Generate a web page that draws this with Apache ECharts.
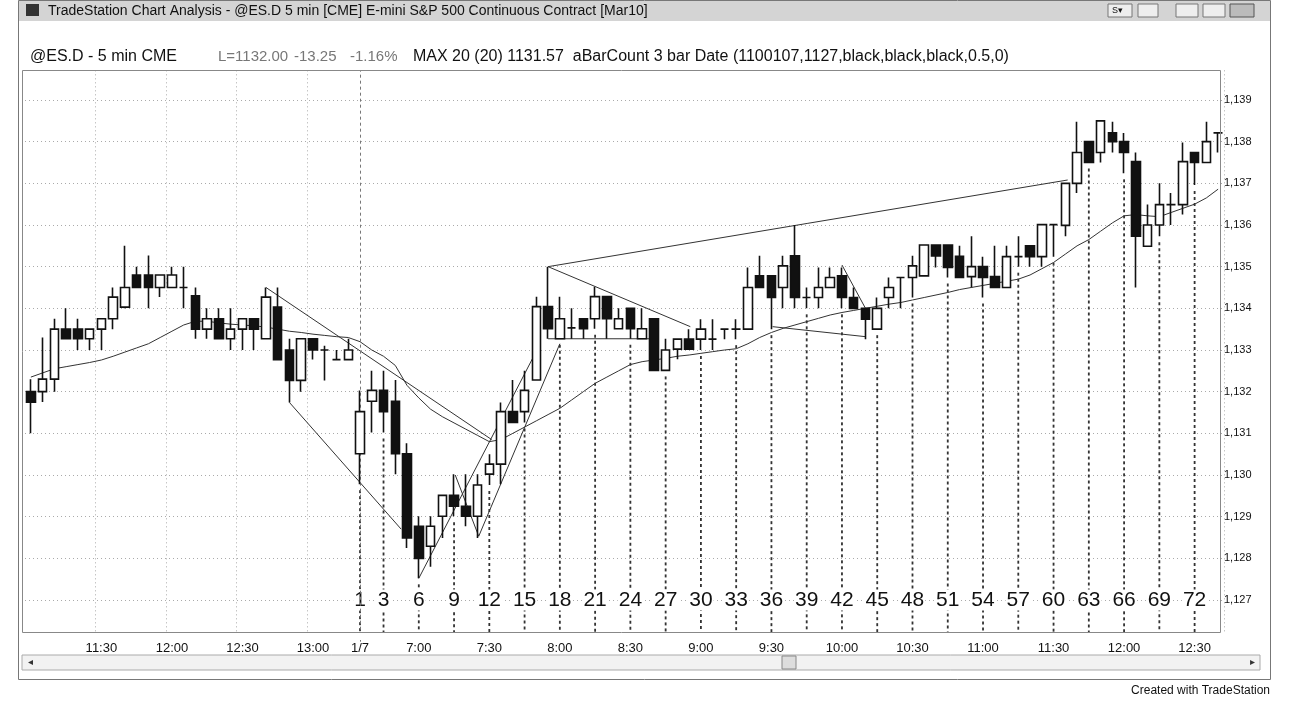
<!DOCTYPE html>
<html>
<head>
<meta charset="utf-8">
<script src="https://cdn.jsdelivr.net/npm/echarts@6/dist/echarts.min.js"></script>
<style>
  html, body { margin: 0; padding: 0; background: #fff; }
  #main { width: 1290px; height: 704px; }
</style>
</head>
<body>
<div id="main"></div>
<script>
// OHLC per 5 min bar: [open, close, low, high]
var day1 = [
  [1132.0, 1131.75, 1131.0, 1132.3], [1132.0, 1132.3, 1131.75, 1133.3], [1132.3, 1133.5, 1132.0, 1133.75],
  [1133.5, 1133.27, 1133.27, 1134.0], [1133.5, 1133.27, 1133.0, 1133.75], [1133.27, 1133.5, 1133.0, 1133.5],
  [1133.5, 1133.75, 1133.0, 1133.75], [1133.75, 1134.27, 1133.5, 1134.5], [1134.03, 1134.5, 1134.0, 1135.5],
  [1134.8, 1134.5, 1134.5, 1135.0], [1134.8, 1134.5, 1134.0, 1135.27], [1134.5, 1134.8, 1134.27, 1134.8],
  [1134.5, 1134.8, 1134.5, 1135.0], [1134.5, 1134.5, 1134.0, 1135.0], [1134.3, 1133.5, 1133.27, 1134.5],
  [1133.5, 1133.75, 1133.27, 1134.0], [1133.75, 1133.27, 1133.27, 1134.0], [1133.27, 1133.5, 1133.0, 1134.0],
  [1133.5, 1133.75, 1133.0, 1133.75], [1133.75, 1133.5, 1133.0, 1133.75], [1133.27, 1134.27, 1133.27, 1134.5],
  [1134.03, 1132.77, 1132.77, 1134.5], [1133.0, 1132.27, 1131.74, 1133.27], [1132.27, 1133.27, 1132.0, 1133.27],
  [1133.27, 1133.0, 1132.77, 1133.27], [1133.0, 1133.0, 1132.27, 1133.1], [1132.77, 1132.77, 1132.77, 1133.0],
  [1132.77, 1133.0, 1132.77, 1133.27]
];
var day2 = [
  [1130.51, 1131.52, 1129.78, 1132.03], [1131.77, 1132.03, 1131.02, 1132.5], [1132.03, 1131.52, 1131.02, 1132.5],
  [1131.77, 1130.51, 1130.02, 1132.28], [1130.51, 1128.49, 1128.25, 1130.76], [1128.77, 1128.0, 1127.52, 1129.01],
  [1128.29, 1128.77, 1127.8, 1129.01], [1129.01, 1129.51, 1128.49, 1129.51], [1129.51, 1129.25, 1129.01, 1130.02],
  [1129.25, 1129.01, 1128.77, 1130.02], [1129.01, 1129.76, 1128.49, 1130.02], [1130.02, 1130.26, 1129.76, 1130.5],
  [1130.26, 1131.52, 1129.78, 1131.74], [1131.52, 1131.26, 1131.26, 1132.28], [1131.52, 1132.03, 1131.26, 1132.5],
  [1132.28, 1134.04, 1132.28, 1134.28], [1134.04, 1133.51, 1133.27, 1135.0], [1133.27, 1133.75, 1133.27, 1134.28],
  [1133.53, 1133.53, 1133.27, 1134.0], [1133.75, 1133.51, 1133.27, 1133.75], [1133.75, 1134.28, 1133.51, 1134.52],
  [1134.28, 1133.75, 1133.27, 1134.28], [1133.51, 1133.75, 1133.51, 1134.0], [1134.0, 1133.51, 1133.27, 1134.0],
  [1133.27, 1133.51, 1133.27, 1134.0], [1133.75, 1132.51, 1132.51, 1133.75], [1132.51, 1133.0, 1132.51, 1133.27],
  [1133.02, 1133.26, 1132.78, 1133.26], [1133.26, 1133.02, 1133.02, 1133.5], [1133.26, 1133.5, 1133.0, 1133.74],
  [1133.26, 1133.26, 1133.0, 1133.74], [1133.5, 1133.5, 1133.26, 1133.52], [1133.5, 1133.5, 1133.26, 1133.74],
  [1133.5, 1134.5, 1133.5, 1134.98], [1134.78, 1134.5, 1134.5, 1135.26], [1134.78, 1134.26, 1133.5, 1134.78],
  [1134.5, 1135.02, 1134.0, 1135.26], [1135.26, 1134.26, 1134.0, 1136.0], [1134.26, 1134.26, 1134.0, 1134.5],
  [1134.26, 1134.5, 1134.0, 1134.98], [1134.5, 1134.74, 1134.5, 1134.98], [1134.78, 1134.26, 1134.0, 1134.98],
  [1134.26, 1134.0, 1134.0, 1134.5], [1134.0, 1133.74, 1133.26, 1134.0], [1133.5, 1134.0, 1133.5, 1134.26],
  [1134.26, 1134.5, 1134.0, 1134.74], [1134.74, 1134.74, 1134.0, 1134.76], [1134.74, 1135.02, 1134.26, 1135.26],
  [1134.78, 1135.52, 1134.78, 1135.52], [1135.52, 1135.26, 1134.98, 1135.52], [1135.52, 1134.98, 1134.74, 1135.52],
  [1135.25, 1134.74, 1134.74, 1135.5], [1134.76, 1135.0, 1134.5, 1135.73], [1135.0, 1134.74, 1134.26, 1135.24],
  [1134.76, 1134.5, 1134.5, 1135.5], [1134.5, 1135.24, 1134.5, 1135.5], [1135.24, 1135.24, 1135.0, 1135.73],
  [1135.5, 1135.24, 1135.0, 1135.5], [1135.24, 1136.01, 1135.0, 1136.01], [1136.01, 1136.01, 1135.24, 1136.03],
  [1135.99, 1137.0, 1135.73, 1137.0], [1137.0, 1137.74, 1136.77, 1138.48], [1138.0, 1137.5, 1137.5, 1138.0],
  [1137.74, 1138.5, 1137.5, 1138.5], [1138.21, 1138.0, 1137.74, 1138.48], [1138.0, 1137.74, 1137.24, 1138.21],
  [1137.52, 1135.73, 1134.5, 1137.74], [1135.49, 1136.0, 1135.49, 1136.49], [1136.0, 1136.49, 1135.73, 1137.0],
  [1136.49, 1136.49, 1136.0, 1136.77], [1136.49, 1137.52, 1136.25, 1137.98], [1137.74, 1137.5, 1136.96, 1137.74],
  [1137.5, 1138.0, 1137.5, 1138.48], [1138.21, 1138.21, 1137.74, 1138.23]
];
// 20 bar average
var maValues = [
  1132.35, 1132.45, 1132.55, 1132.6, 1132.65, 1132.7, 1132.76, 1132.85, 1132.95, 1133.05,
  1133.15, 1133.3, 1133.45, 1133.6, 1133.69, 1133.69, 1133.65, 1133.62, 1133.6, 1133.58,
  1133.55, 1133.5, 1133.45, 1133.42, 1133.38, 1133.35, 1133.32, 1133.3,
  1133.2, 1133.0, 1132.85, 1132.63, 1132.15, 1131.85, 1131.58, 1131.4, 1131.25, 1131.1,
  1130.95, 1130.8, 1130.85, 1131.0, 1131.15, 1131.3, 1131.45, 1131.6, 1131.8, 1132.0,
  1132.2, 1132.35, 1132.5, 1132.65, 1132.72, 1132.76, 1132.8, 1132.85, 1132.88, 1132.92,
  1132.96, 1133.0, 1133.03, 1133.15, 1133.3, 1133.42, 1133.52, 1133.6, 1133.68, 1133.76,
  1133.84, 1133.9, 1133.95, 1134.0, 1134.05, 1134.1, 1134.14, 1134.2, 1134.26, 1134.32,
  1134.38, 1134.45, 1134.5, 1134.55, 1134.6, 1134.65, 1134.7, 1134.8, 1134.95, 1135.1,
  1135.3, 1135.5, 1135.65, 1135.85, 1136.05, 1136.22, 1136.25, 1136.22, 1136.2, 1136.3,
  1136.4, 1136.5, 1136.65, 1136.86
];
// trendlines as [bar index, price]
var trendLines = [
  [[20, 1134.5], [39.2, 1130.85]],
  [[22, 1131.74], [31.5, 1128.7]],
  [[33, 1127.52], [43.05, 1133.0]],
  [[36.1, 1130.0], [38.1, 1128.53], [45, 1133.15]],
  [[44, 1135.0], [88.2, 1137.08]],
  [[44, 1135.0], [56.1, 1133.56]],
  [[44, 1133.27], [52.6, 1133.27]],
  [[63.1, 1133.56], [71, 1133.32], [71, 1134.0]],
  [[69, 1135.04], [71, 1134.0]]
];
var barCounts = [1, 3, 6, 9, 12, 15, 18, 21, 24, 27, 30, 33, 36, 39, 42, 45, 48, 51, 54, 57, 60, 63, 66, 69, 72];
var tickLabels = [
  [6, '11:30'], [12, '12:00'], [18, '12:30'], [24, '13:00'], [28, '1/7'], [33, '7:00'], [39, '7:30'],
  [45, '8:00'], [51, '8:30'], [57, '9:00'], [63, '9:30'], [69, '10:00'], [75, '10:30'], [81, '11:00'],
  [87, '11:30'], [93, '12:00'], [99, '12:30']
];
var dayStart = day1.length; // index of first bar of 1/7

var bars = day1.concat(day2);
var cats = bars.map(function (b, i) { return 'b' + i; });
var tickMap = {};
tickLabels.forEach(function (t) { tickMap[t[0]] = t[1]; });

var myChart = echarts.init(document.getElementById('main'));

var font = 'Liberation Sans, Arial, sans-serif';
var lineSeries = trendLines.map(function (pts) {
  return {
    type: 'line', xAxisIndex: 1, data: pts, symbol: 'none', silent: true, z: 4,
    lineStyle: { color: '#333', width: 1 }
  };
});

// colours of horizontal grid lines, 1126 and 1140 hidden
var gridColors = [];
for (var p = 1126; p <= 1140; p++) gridColors.push(p === 1126 || p === 1140 ? 'rgba(0,0,0,0)' : '#aaa');

function infoText(x, text, color, size) {
  return { type: 'text', x: x, y: 57, z: 61,
           style: { text: text, font: size + 'px ' + font, fill: color, verticalAlign: 'middle' } };
}

option = {
  animation: false,
  backgroundColor: '#fff',
  grid: { left: 25, right: 66, top: 100 - 41.667, bottom: 704 - (600 + 41.667) },
  xAxis: [{
    type: 'category', data: cats,
    axisLine: { show: false },
    axisTick: { show: false },
    axisLabel: {
      interval: function (i) { return tickMap[i] !== undefined; },
      formatter: function (v, i) { return tickMap[i] || ''; },
      color: '#111', fontSize: 13, fontFamily: font, margin: 0
    },
    splitLine: {
      show: true,
      interval: function (i) { return tickMap[i] !== undefined && i < dayStart; },
      lineStyle: { color: '#aaa', type: [1, 3] }
    }
  }, {
    type: 'value', min: -0.5, max: bars.length - 0.5, show: false
  }],
  yAxis: {
    type: 'value', position: 'right', min: 1126, max: 1140, interval: 1, scale: true,
    axisLine: { show: false }, axisTick: { show: false },
    axisLabel: {
      color: '#111', fontSize: 11, fontFamily: font, margin: 0,
      formatter: function (v) { return (v === 1126 || v === 1140) ? '' : '1,' + String(v).slice(1); }
    },
    splitLine: { lineStyle: { color: gridColors, type: [1, 3] } }
  },
  series: [{
    type: 'candlestick', data: bars, barWidth: 9, z: 5,
    itemStyle: { color: '#fff', color0: '#111', borderColor: '#111', borderColor0: '#111', borderWidth: 1.6 },
    markLine: {
      symbol: 'none', silent: true, label: { show: false },
      lineStyle: { color: '#777', type: [3, 3], width: 1 },
      data: [{ xAxis: dayStart }]
    }
  }, {
    type: 'line', xAxisIndex: 1, symbol: 'none', silent: true, z: 4,
    data: maValues.map(function (v, i) { return [i, v]; }),
    lineStyle: { color: '#333', width: 1 }
  }, {
    type: 'custom', xAxisIndex: 0, z: 3, silent: true,
    data: barCounts.map(function (c) { return [dayStart + c - 1, bars[dayStart + c - 1][2], c]; }),
    renderItem: function (params, api) {
      var top = api.coord([api.value(0), api.value(1)]);
      var bottom = api.coord([api.value(0), 1126.23]);
      var txt = api.coord([api.value(0), 1127]);
      return {
        type: 'group', children: [{
          type: 'line', shape: { x1: top[0], y1: top[1] + 6, x2: top[0], y2: bottom[1] },
          style: { stroke: '#333', lineWidth: 1.8, lineDash: [3, 3] }
        }, {
          type: 'text', x: txt[0], y: txt[1],
          style: { text: String(api.value(2)), fill: '#111', font: '21px ' + font, align: 'center', verticalAlign: 'middle',
                   backgroundColor: '#fff', padding: [0, 1] }
        }]
      };
    }
  }].concat(lineSeries),
  graphic: [
    // cover area outside the plot frame
    { type: 'rect', shape: { x: 18, y: 22, width: 1252, height: 48 }, style: { fill: '#fff' }, z: 50 },
    { type: 'rect', shape: { x: 18, y: 632, width: 1252, height: 8 }, style: { fill: '#fff' }, z: 50 },
    // window frame and plot frame
    { type: 'rect', shape: { x: 18.5, y: 0.5, width: 1252, height: 679 }, style: { fill: 'none', stroke: '#777', lineWidth: 1 }, z: 60 },
    { type: 'rect', shape: { x: 22.5, y: 70.5, width: 1198, height: 562 }, style: { fill: 'none', stroke: '#888', lineWidth: 1 }, z: 60 },
    // title bar
    { type: 'rect', shape: { x: 19, y: 1, width: 1251, height: 20 }, style: { fill: '#d4d4d4' }, z: 60 },
    { type: 'rect', shape: { x: 26, y: 4, width: 13, height: 12 }, style: { fill: '#333' }, z: 61 },
    { type: 'text', x: 48, y: 11, style: { text: 'TradeStation Chart Analysis - @ES.D 5 min [CME] E-mini S&P 500 Continuous Contract [Mar10]', font: '14px ' + font, fill: '#111', verticalAlign: 'middle' }, z: 61 },
    { type: 'rect', shape: { x: 1108, y: 4, width: 24, height: 13 }, style: { fill: '#eee', stroke: '#777' }, z: 61 },
    { type: 'rect', shape: { x: 1138, y: 4, width: 20, height: 13 }, style: { fill: '#eee', stroke: '#777' }, z: 61 },
    { type: 'rect', shape: { x: 1176, y: 4, width: 22, height: 13 }, style: { fill: '#eee', stroke: '#777' }, z: 61 },
    { type: 'rect', shape: { x: 1203, y: 4, width: 22, height: 13 }, style: { fill: '#eee', stroke: '#777' }, z: 61 },
    { type: 'rect', shape: { x: 1230, y: 4, width: 24, height: 13 }, style: { fill: '#bbb', stroke: '#555' }, z: 61 },
    { type: 'text', x: 1112, y: 11, style: { text: 'S▾', font: '9px ' + font, fill: '#111', verticalAlign: 'middle' }, z: 62 },
    // info line
    infoText(30, '@ES.D - 5 min CME', '#111', 16),
    infoText(218, 'L=1132.00', '#777', 15),
    infoText(294, '-13.25', '#777', 15),
    infoText(350, '-1.16%', '#777', 15),
    infoText(413, 'MAX 20 (20) 1131.57  aBarCount 3 bar Date (1100107,1127,black,black,black,0.5,0)', '#111', 16),
    // scrollbar
    { type: 'rect', shape: { x: 22, y: 655, width: 1238, height: 15 }, style: { fill: '#f2f2f2', stroke: '#aaa' }, z: 61 },
    { type: 'rect', shape: { x: 782, y: 656, width: 14, height: 13 }, style: { fill: '#ddd', stroke: '#888' }, z: 62 },
    { type: 'text', x: 30, y: 662, style: { text: '◂', font: '10px ' + font, fill: '#333', align: 'center', verticalAlign: 'middle' }, z: 62 },
    { type: 'text', x: 1252, y: 662, style: { text: '▸', font: '10px ' + font, fill: '#333', align: 'center', verticalAlign: 'middle' }, z: 62 },
    { type: 'text', x: 1270, y: 691, style: { text: 'Created with TradeStation', font: '12px ' + font, fill: '#111', align: 'right', verticalAlign: 'middle' }, z: 62 }
  ]
};
myChart.setOption(option);
</script>
</body>
</html>
